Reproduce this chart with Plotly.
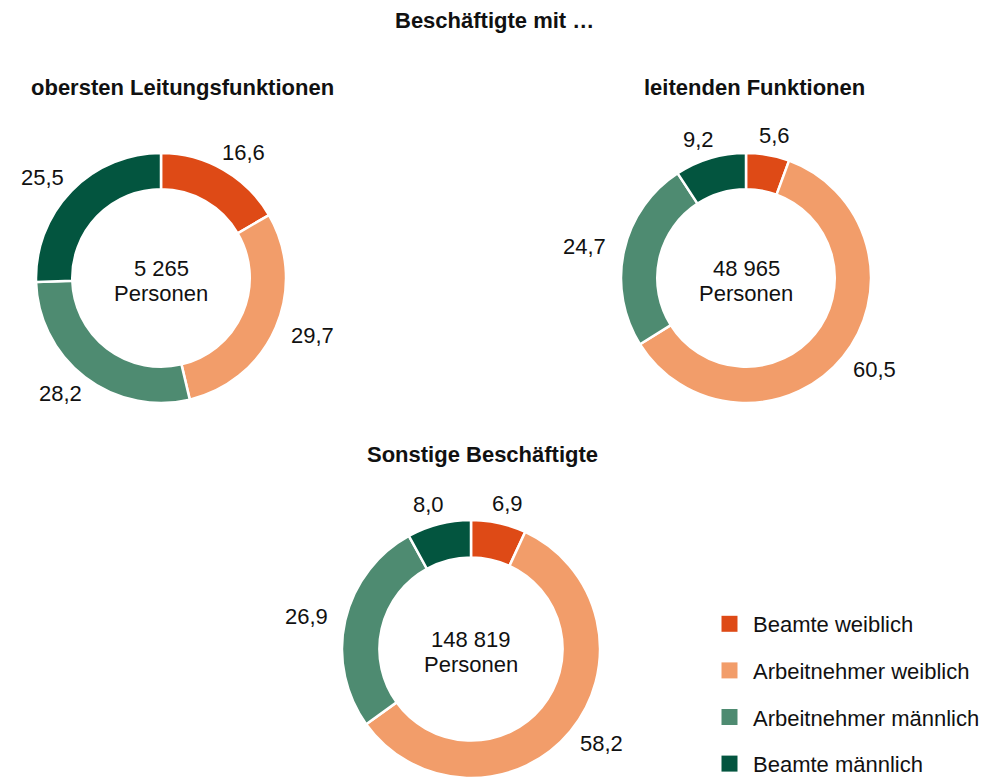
import math
import plotly.graph_objects as go

# ---------------- data ----------------
categories = ["Beamte weiblich", "Arbeitnehmer weiblich", "Arbeitnehmer männlich", "Beamte männlich"]
groups = ["obersten Leitungsfunktionen", "leitenden Funktionen", "Sonstige Beschäftigte"]
shares_obersten = [16.6, 29.7, 28.2, 25.5]
shares_leitend = [5.6, 60.5, 24.7, 9.2]
shares_sonstige = [6.9, 58.2, 26.9, 8.0]
totals = [5265, 48965, 148819]
main_title = "Beschäftigte mit …"

# ---------------- style ----------------
colors = ["#DE4A16", "#F29D6A", "#4E8B71", "#03553F"]
FIG_W, FIG_H = 987, 796    # a little taller than the window; the extra is cropped
FONT = "Liberation Sans, Arial, sans-serif"
FS = 22
pie_geo = [(161, 278, 125), (746, 278, 125), (471, 649, 129)]
sub_pos = [(182, 87), (754, 87), (482, 455)]
title_pos = (494, 20)
HOLE = 0.71
PADX, PADY = 40, 20


def px(x):
    return x / FIG_W


def py(y):
    return 1 - y / FIG_H


def clamp(v):
    return min(1.0, max(0.0, v))


def fmt_de(v):
    return f"{v:.1f}".replace(".", ",")


def fmt_total(n):
    return f"{n:,}".replace(",", " ")


def txt(x, y, s, size=FS, bold=False):
    return dict(
        x=px(x), y=py(y), xref="paper", yref="paper",
        text=f"<b>{s}</b>" if bold else s, showarrow=False,
        xanchor="center", yanchor="middle",
        font=dict(size=size, color="#111111", family=FONT),
    )


fig = go.Figure()
annotations = []
all_shares = [shares_obersten, shares_leitend, shares_sonstige]

for i, (shares, (cx, cy, r)) in enumerate(zip(all_shares, pie_geo)):
    fig.add_trace(go.Pie(
        labels=categories,
        values=shares,
        hole=HOLE,
        sort=False,
        direction="clockwise",
        rotation=0,
        marker=dict(colors=colors, line=dict(color="white", width=2.5)),
        textinfo="none",
        hoverinfo="label+value",
        showlegend=False,
        domain=dict(x=[clamp(px(cx - r)), clamp(px(cx + r))],
                    y=[clamp(py(cy + r)), clamp(py(cy - r))]),
    ))
    # value labels outside each slice, at the slice's mid angle
    cum = 0.0
    total = sum(shares)
    for v in shares:
        mid = (cum + v / 2) / total * 2 * math.pi
        cum += v
        lx = cx + math.sin(mid) * (r + PADX)
        ly = cy - math.cos(mid) * (r + PADY)
        annotations.append(txt(lx, ly, fmt_de(v)))
    # centre text
    annotations.append(txt(cx, cy - 10, fmt_total(totals[i])))
    annotations.append(txt(cx, cy + 15, "Personen"))
    # subtitle
    sx, sy = sub_pos[i]
    annotations.append(txt(sx, sy, groups[i], bold=True))

annotations.append(txt(title_pos[0], title_pos[1], main_title, bold=True))

# legend via dummy traces so item spacing can be controlled
for cat, col in zip(categories, colors):
    fig.add_trace(go.Scatter(
        x=[None], y=[None], mode="markers", name=cat,
        legendgroup=cat,
        marker=dict(symbol="square", size=20, color=col),
        hoverinfo="skip",
    ))

fig.update_layout(
    width=FIG_W, height=FIG_H,
    margin=dict(l=0, r=0, t=0, b=0),
    paper_bgcolor="white", plot_bgcolor="white",
    font=dict(family=FONT, color="#111111"),
    annotations=annotations,
    xaxis=dict(visible=False), yaxis=dict(visible=False),
    showlegend=True,
    legend=dict(
        x=px(706), y=py(603), xanchor="left", yanchor="top",
        font=dict(size=FS, family=FONT, color="#111111"),
        tracegroupgap=15,
        itemwidth=37,
        traceorder="grouped",
        bgcolor="rgba(0,0,0,0)",
    ),
)

fig.write_html(
    "out.html",
    config={"displayModeBar": False},
    post_script="document.body.style.margin='0';"
                "document.documentElement.style.overflow='hidden';",
)
